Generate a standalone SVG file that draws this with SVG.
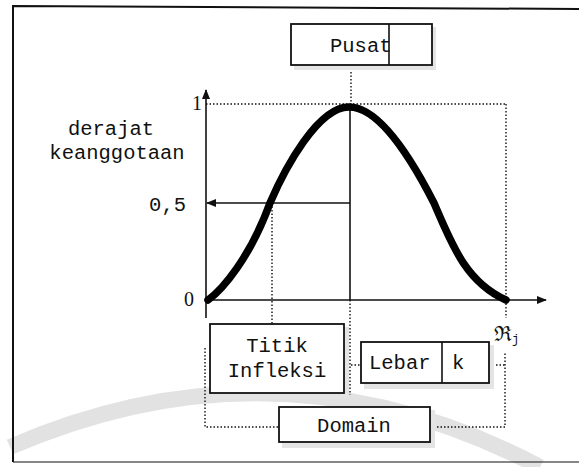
<svg xmlns="http://www.w3.org/2000/svg" width="579" height="467" viewBox="0 0 579 467">
<style>
.mono{font-family:"Liberation Mono","Courier New",monospace;font-size:20.5px;fill:#111}
.serif{font-family:"Liberation Serif","Times New Roman",serif;fill:#111}
.box{fill:#fff;stroke:#111;stroke-width:1.8}
.shadow{fill:#e4e4e4}
.solid{stroke:#111;stroke-width:1.6;fill:none}
.dot{stroke:#111;stroke-width:1.4;fill:none;stroke-dasharray:1.5 2}
</style>
<defs>
<marker id="ah" viewBox="0 0 10 10" refX="9" refY="5" markerWidth="10" markerHeight="10" markerUnits="userSpaceOnUse" orient="auto">
<path d="M0,1 L10,5 L0,9 Z" fill="#111"/>
</marker>
</defs>
<rect width="579" height="467" fill="#fff"/>
<path id="watermark-arc" d="M10,447 Q280,330 540,467" stroke="#e2e2e2" stroke-width="16" fill="none"/>
<path id="frame" d="M13,462 L13,6 L579,9" stroke="#111" stroke-width="2" fill="none"/>
<path d="M13,462 L579,462" stroke="#111" stroke-width="1.2" fill="none"/>
<g id="connectors">
<line class="solid" x1="206" y1="318" x2="206" y2="90" marker-end="url(#ah)"/>
<line class="solid" x1="206" y1="300" x2="546" y2="300" marker-end="url(#ah)"/>
<line class="solid" x1="350" y1="203" x2="207" y2="203" marker-end="url(#ah)"/>
<line class="solid" x1="350" y1="104" x2="350" y2="300"/>
<line class="dot" x1="351" y1="65" x2="351" y2="104"/>
<line class="dot" x1="206" y1="104" x2="506" y2="104"/>
<line class="dot" x1="506" y1="104" x2="506" y2="318"/>
<line class="dot" x1="272" y1="203" x2="272" y2="324"/>
<line class="dot" x1="350" y1="300" x2="350" y2="395"/>
<line class="dot" x1="344" y1="365" x2="361" y2="365"/>
<line class="dot" x1="489" y1="365" x2="505" y2="365"/>
<polyline class="dot" points="205,348 205,427 279,427"/>
<polyline class="dot" points="430,427 505,427 505,352"/>
<path d="M208,300 C222,290 250,258 270,203 C285,168 318,107 349,107 C380,107 412,160 434,203 C452,245 466,282 506,300" stroke="#000" stroke-width="7.5" fill="none" stroke-linecap="round"/>
</g>
<g id="labels">
<text class="mono" x="111" y="135" text-anchor="middle">derajat</text>
<text class="mono" x="117" y="159" text-anchor="middle">keanggotaan</text>
<text class="mono" x="186" y="211" text-anchor="end">0,5</text>
<text class="serif" x="189" y="306" font-size="20" text-anchor="middle">0</text>
<text class="serif" x="197" y="110" font-size="20" text-anchor="middle">1</text>
<text class="serif" x="494" y="341" font-size="21">ℜ<tspan font-size="12" dy="2" font-family="Liberation Mono, monospace">j</tspan></text>
</g>
<g id="pusat">
<rect class="shadow" x="294" y="27" width="142" height="43"/>
<rect class="box" x="291" y="24" width="141" height="41"/>
<line class="solid" x1="389" y1="24" x2="389" y2="65"/>
<text class="mono" x="330" y="52">Pusat</text>
</g>
<g id="titik">
<rect class="shadow" x="213" y="327" width="136" height="72"/>
<rect class="box" x="210" y="324" width="134" height="69"/>
<text class="mono" x="277" y="352" text-anchor="middle">Titik</text>
<text class="mono" x="277" y="377" text-anchor="middle">Infleksi</text>
</g>
<g id="lebar">
<rect class="shadow" x="364" y="345" width="130" height="44"/>
<rect class="box" x="361" y="342" width="128" height="41"/>
<line class="solid" x1="442" y1="342" x2="442" y2="383"/>
<text class="mono" x="369" y="369">Lebar</text>
<text class="mono" x="452" y="369">k</text>
</g>
<g id="domain">
<rect class="shadow" x="282" y="410" width="153" height="38"/>
<rect class="box" x="279" y="407" width="151" height="35"/>
<text class="mono" x="354" y="432" text-anchor="middle">Domain</text>
</g>
</svg>
